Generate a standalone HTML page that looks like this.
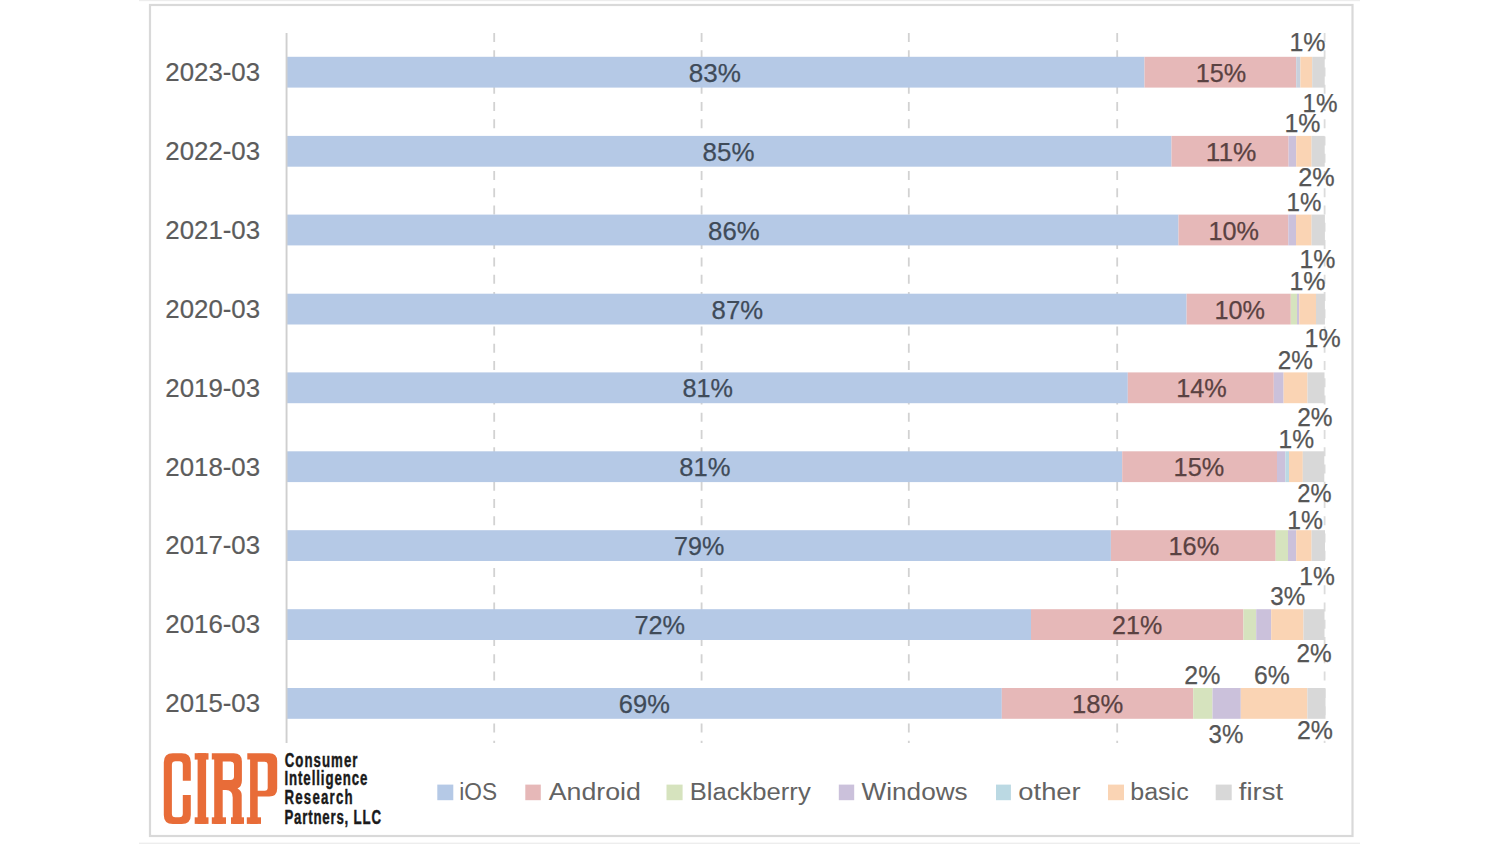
<!DOCTYPE html>
<html><head><meta charset="utf-8"><title>CIRP chart</title>
<style>html,body{margin:0;padding:0;background:#FFFFFF;}body{width:1500px;height:844px;position:relative;overflow:hidden;}</style>
</head><body>
<svg width="1500" height="844" viewBox="0 0 1500 844" style="position:absolute;left:0;top:0">
<rect x="139" y="0" width="1221" height="1.2" fill="#EDEDED"/>
<rect x="139" y="842.6" width="1221" height="1.4" fill="#EDEDED"/>
<rect x="150" y="5" width="1202.5" height="831" fill="#FFFFFF" stroke="#D9D9D9" stroke-width="2.2"/>
<line x1="494.2" y1="33" x2="494.2" y2="743" stroke="#D2D2D2" stroke-width="1.8" stroke-dasharray="9 8.26"/>
<line x1="701.6" y1="33" x2="701.6" y2="743" stroke="#D2D2D2" stroke-width="1.8" stroke-dasharray="9 8.26"/>
<line x1="908.8" y1="33" x2="908.8" y2="743" stroke="#D2D2D2" stroke-width="1.8" stroke-dasharray="9 8.26"/>
<line x1="1117.2" y1="33" x2="1117.2" y2="743" stroke="#D2D2D2" stroke-width="1.8" stroke-dasharray="9 8.26"/>
<line x1="1324.6" y1="33" x2="1324.6" y2="743" stroke="#DCDCDC" stroke-width="1.8" stroke-dasharray="9 8.26"/>
<rect x="287.00" y="56.80" width="857.50" height="30.8" fill="#B5C9E6"/>
<rect x="1144.50" y="56.80" width="151.70" height="30.8" fill="#E6B8B8"/>
<rect x="1296.20" y="56.80" width="4.20" height="30.8" fill="#C8D0DC"/>
<rect x="1300.40" y="56.80" width="11.80" height="30.8" fill="#FAD4B4"/>
<rect x="1312.20" y="56.80" width="12.50" height="30.8" fill="#D8D8D8"/>
<rect x="287.00" y="135.90" width="884.50" height="30.8" fill="#B5C9E6"/>
<rect x="1171.50" y="135.90" width="117.10" height="30.8" fill="#E6B8B8"/>
<rect x="1288.60" y="135.90" width="7.60" height="30.8" fill="#CBC1DB"/>
<rect x="1296.20" y="135.90" width="15.40" height="30.8" fill="#FAD4B4"/>
<rect x="1311.60" y="135.90" width="13.10" height="30.8" fill="#D8D8D8"/>
<rect x="287.00" y="214.60" width="891.50" height="30.8" fill="#B5C9E6"/>
<rect x="1178.50" y="214.60" width="109.80" height="30.8" fill="#E6B8B8"/>
<rect x="1288.30" y="214.60" width="7.70" height="30.8" fill="#CBC1DB"/>
<rect x="1296.00" y="214.60" width="15.60" height="30.8" fill="#FAD4B4"/>
<rect x="1311.60" y="214.60" width="13.30" height="30.8" fill="#D8D8D8"/>
<rect x="287.00" y="293.70" width="899.60" height="30.8" fill="#B5C9E6"/>
<rect x="1186.60" y="293.70" width="104.20" height="30.8" fill="#E6B8B8"/>
<rect x="1290.80" y="293.70" width="6.20" height="30.8" fill="#D6E3BE"/>
<rect x="1297.00" y="293.70" width="2.20" height="30.8" fill="#CBC1DB"/>
<rect x="1299.20" y="293.70" width="16.80" height="30.8" fill="#FAD4B4"/>
<rect x="1316.00" y="293.70" width="8.90" height="30.8" fill="#D8D8D8"/>
<rect x="287.00" y="372.40" width="840.80" height="30.8" fill="#B5C9E6"/>
<rect x="1127.80" y="372.40" width="146.00" height="30.8" fill="#E6B8B8"/>
<rect x="1273.80" y="372.40" width="9.80" height="30.8" fill="#CBC1DB"/>
<rect x="1283.60" y="372.40" width="23.90" height="30.8" fill="#FAD4B4"/>
<rect x="1307.50" y="372.40" width="17.00" height="30.8" fill="#D8D8D8"/>
<rect x="287.00" y="451.30" width="835.20" height="30.8" fill="#B5C9E6"/>
<rect x="1122.20" y="451.30" width="154.80" height="30.8" fill="#E6B8B8"/>
<rect x="1277.00" y="451.30" width="8.40" height="30.8" fill="#CBC1DB"/>
<rect x="1285.40" y="451.30" width="3.60" height="30.8" fill="#BBD9E3"/>
<rect x="1289.00" y="451.30" width="13.80" height="30.8" fill="#FAD4B4"/>
<rect x="1302.80" y="451.30" width="21.50" height="30.8" fill="#D8D8D8"/>
<rect x="287.00" y="530.20" width="823.90" height="30.8" fill="#B5C9E6"/>
<rect x="1110.90" y="530.20" width="164.80" height="30.8" fill="#E6B8B8"/>
<rect x="1275.70" y="530.20" width="12.30" height="30.8" fill="#D6E3BE"/>
<rect x="1288.00" y="530.20" width="8.20" height="30.8" fill="#CBC1DB"/>
<rect x="1296.20" y="530.20" width="15.40" height="30.8" fill="#FAD4B4"/>
<rect x="1311.60" y="530.20" width="13.40" height="30.8" fill="#D8D8D8"/>
<rect x="287.00" y="609.20" width="744.00" height="30.8" fill="#B5C9E6"/>
<rect x="1031.00" y="609.20" width="212.40" height="30.8" fill="#E6B8B8"/>
<rect x="1243.40" y="609.20" width="12.80" height="30.8" fill="#D6E3BE"/>
<rect x="1256.20" y="609.20" width="15.00" height="30.8" fill="#CBC1DB"/>
<rect x="1271.20" y="609.20" width="32.30" height="30.8" fill="#FAD4B4"/>
<rect x="1303.50" y="609.20" width="21.00" height="30.8" fill="#D8D8D8"/>
<rect x="287.00" y="688.00" width="714.80" height="30.8" fill="#B5C9E6"/>
<rect x="1001.80" y="688.00" width="191.40" height="30.8" fill="#E6B8B8"/>
<rect x="1193.20" y="688.00" width="19.30" height="30.8" fill="#D6E3BE"/>
<rect x="1212.50" y="688.00" width="28.30" height="30.8" fill="#CBC1DB"/>
<rect x="1240.80" y="688.00" width="66.60" height="30.8" fill="#FAD4B4"/>
<rect x="1307.40" y="688.00" width="18.10" height="30.8" fill="#D8D8D8"/>
<rect x="285.6" y="33" width="1.9" height="710" fill="#CFCFCF"/>
<text x="165.31" y="81.00" font-size="26.5" textLength="94.79" lengthAdjust="spacingAndGlyphs" fill="#5C5C5C" font-family='"Liberation Sans", sans-serif' font-weight="normal" stroke="#5C5C5C" stroke-width="0.2">2023-03</text>
<text x="165.31" y="160.10" font-size="26.5" textLength="94.79" lengthAdjust="spacingAndGlyphs" fill="#5C5C5C" font-family='"Liberation Sans", sans-serif' font-weight="normal" stroke="#5C5C5C" stroke-width="0.2">2022-03</text>
<text x="165.31" y="238.80" font-size="26.5" textLength="94.79" lengthAdjust="spacingAndGlyphs" fill="#5C5C5C" font-family='"Liberation Sans", sans-serif' font-weight="normal" stroke="#5C5C5C" stroke-width="0.2">2021-03</text>
<text x="165.31" y="317.90" font-size="26.5" textLength="94.79" lengthAdjust="spacingAndGlyphs" fill="#5C5C5C" font-family='"Liberation Sans", sans-serif' font-weight="normal" stroke="#5C5C5C" stroke-width="0.2">2020-03</text>
<text x="165.31" y="396.60" font-size="26.5" textLength="94.79" lengthAdjust="spacingAndGlyphs" fill="#5C5C5C" font-family='"Liberation Sans", sans-serif' font-weight="normal" stroke="#5C5C5C" stroke-width="0.2">2019-03</text>
<text x="165.31" y="475.50" font-size="26.5" textLength="94.79" lengthAdjust="spacingAndGlyphs" fill="#5C5C5C" font-family='"Liberation Sans", sans-serif' font-weight="normal" stroke="#5C5C5C" stroke-width="0.2">2018-03</text>
<text x="165.31" y="554.40" font-size="26.5" textLength="94.79" lengthAdjust="spacingAndGlyphs" fill="#5C5C5C" font-family='"Liberation Sans", sans-serif' font-weight="normal" stroke="#5C5C5C" stroke-width="0.2">2017-03</text>
<text x="165.31" y="633.40" font-size="26.5" textLength="94.79" lengthAdjust="spacingAndGlyphs" fill="#5C5C5C" font-family='"Liberation Sans", sans-serif' font-weight="normal" stroke="#5C5C5C" stroke-width="0.2">2016-03</text>
<text x="165.31" y="712.20" font-size="26.5" textLength="94.79" lengthAdjust="spacingAndGlyphs" fill="#5C5C5C" font-family='"Liberation Sans", sans-serif' font-weight="normal" stroke="#5C5C5C" stroke-width="0.2">2015-03</text>
<text x="688.89" y="82.00" font-size="25.5" textLength="52.16" lengthAdjust="spacingAndGlyphs" fill="#3F4B59" font-family='"Liberation Sans", sans-serif' font-weight="normal" stroke="#3F4B59" stroke-width="0.25">83%</text>
<text x="1195.81" y="82.00" font-size="25.5" textLength="50.51" lengthAdjust="spacingAndGlyphs" fill="#5A4242" font-family='"Liberation Sans", sans-serif' font-weight="normal" stroke="#5A4242" stroke-width="0.25">15%</text>
<text x="1289.43" y="51.10" font-size="25.5" textLength="36.12" lengthAdjust="spacingAndGlyphs" fill="#565656" font-family='"Liberation Sans", sans-serif' font-weight="normal" stroke="#565656" stroke-width="0.25">1%</text>
<text x="1302.58" y="112.40" font-size="25.5" textLength="35.04" lengthAdjust="spacingAndGlyphs" fill="#565656" font-family='"Liberation Sans", sans-serif' font-weight="normal" stroke="#565656" stroke-width="0.25">1%</text>
<text x="702.60" y="160.90" font-size="25.5" textLength="51.85" lengthAdjust="spacingAndGlyphs" fill="#3F4B59" font-family='"Liberation Sans", sans-serif' font-weight="normal" stroke="#3F4B59" stroke-width="0.25">85%</text>
<text x="1205.83" y="160.90" font-size="25.5" textLength="50.65" lengthAdjust="spacingAndGlyphs" fill="#5A4242" font-family='"Liberation Sans", sans-serif' font-weight="normal" stroke="#5A4242" stroke-width="0.25">11%</text>
<text x="1284.43" y="132.10" font-size="25.5" textLength="36.01" lengthAdjust="spacingAndGlyphs" fill="#565656" font-family='"Liberation Sans", sans-serif' font-weight="normal" stroke="#565656" stroke-width="0.25">1%</text>
<text x="1298.14" y="186.40" font-size="25.5" textLength="36.41" lengthAdjust="spacingAndGlyphs" fill="#565656" font-family='"Liberation Sans", sans-serif' font-weight="normal" stroke="#565656" stroke-width="0.25">2%</text>
<text x="708.11" y="239.70" font-size="25.5" textLength="51.53" lengthAdjust="spacingAndGlyphs" fill="#3F4B59" font-family='"Liberation Sans", sans-serif' font-weight="normal" stroke="#3F4B59" stroke-width="0.25">86%</text>
<text x="1208.51" y="239.70" font-size="25.5" textLength="50.51" lengthAdjust="spacingAndGlyphs" fill="#5A4242" font-family='"Liberation Sans", sans-serif' font-weight="normal" stroke="#5A4242" stroke-width="0.25">10%</text>
<text x="1286.49" y="211.20" font-size="25.5" textLength="34.93" lengthAdjust="spacingAndGlyphs" fill="#565656" font-family='"Liberation Sans", sans-serif' font-weight="normal" stroke="#565656" stroke-width="0.25">1%</text>
<text x="1299.53" y="268.00" font-size="25.5" textLength="36.01" lengthAdjust="spacingAndGlyphs" fill="#565656" font-family='"Liberation Sans", sans-serif' font-weight="normal" stroke="#565656" stroke-width="0.25">1%</text>
<text x="711.61" y="318.70" font-size="25.5" textLength="51.43" lengthAdjust="spacingAndGlyphs" fill="#3F4B59" font-family='"Liberation Sans", sans-serif' font-weight="normal" stroke="#3F4B59" stroke-width="0.25">87%</text>
<text x="1214.51" y="318.70" font-size="25.5" textLength="50.51" lengthAdjust="spacingAndGlyphs" fill="#5A4242" font-family='"Liberation Sans", sans-serif' font-weight="normal" stroke="#5A4242" stroke-width="0.25">10%</text>
<text x="1289.43" y="290.20" font-size="25.5" textLength="36.12" lengthAdjust="spacingAndGlyphs" fill="#565656" font-family='"Liberation Sans", sans-serif' font-weight="normal" stroke="#565656" stroke-width="0.25">1%</text>
<text x="1304.53" y="346.60" font-size="25.5" textLength="36.12" lengthAdjust="spacingAndGlyphs" fill="#565656" font-family='"Liberation Sans", sans-serif' font-weight="normal" stroke="#565656" stroke-width="0.25">1%</text>
<text x="682.43" y="397.20" font-size="25.5" textLength="50.49" lengthAdjust="spacingAndGlyphs" fill="#3F4B59" font-family='"Liberation Sans", sans-serif' font-weight="normal" stroke="#3F4B59" stroke-width="0.25">81%</text>
<text x="1176.20" y="397.20" font-size="25.5" textLength="50.62" lengthAdjust="spacingAndGlyphs" fill="#5A4242" font-family='"Liberation Sans", sans-serif' font-weight="normal" stroke="#5A4242" stroke-width="0.25">14%</text>
<text x="1277.68" y="369.20" font-size="25.5" textLength="35.14" lengthAdjust="spacingAndGlyphs" fill="#565656" font-family='"Liberation Sans", sans-serif' font-weight="normal" stroke="#565656" stroke-width="0.25">2%</text>
<text x="1297.18" y="426.00" font-size="25.5" textLength="35.35" lengthAdjust="spacingAndGlyphs" fill="#565656" font-family='"Liberation Sans", sans-serif' font-weight="normal" stroke="#565656" stroke-width="0.25">2%</text>
<text x="679.21" y="476.00" font-size="25.5" textLength="51.22" lengthAdjust="spacingAndGlyphs" fill="#3F4B59" font-family='"Liberation Sans", sans-serif' font-weight="normal" stroke="#3F4B59" stroke-width="0.25">81%</text>
<text x="1173.60" y="476.00" font-size="25.5" textLength="50.62" lengthAdjust="spacingAndGlyphs" fill="#5A4242" font-family='"Liberation Sans", sans-serif' font-weight="normal" stroke="#5A4242" stroke-width="0.25">15%</text>
<text x="1278.45" y="448.20" font-size="25.5" textLength="35.58" lengthAdjust="spacingAndGlyphs" fill="#565656" font-family='"Liberation Sans", sans-serif' font-weight="normal" stroke="#565656" stroke-width="0.25">1%</text>
<text x="1297.21" y="502.10" font-size="25.5" textLength="34.28" lengthAdjust="spacingAndGlyphs" fill="#565656" font-family='"Liberation Sans", sans-serif' font-weight="normal" stroke="#565656" stroke-width="0.25">2%</text>
<text x="673.98" y="555.00" font-size="25.5" textLength="50.23" lengthAdjust="spacingAndGlyphs" fill="#3F4B59" font-family='"Liberation Sans", sans-serif' font-weight="normal" stroke="#3F4B59" stroke-width="0.25">79%</text>
<text x="1168.50" y="555.00" font-size="25.5" textLength="50.83" lengthAdjust="spacingAndGlyphs" fill="#5A4242" font-family='"Liberation Sans", sans-serif' font-weight="normal" stroke="#5A4242" stroke-width="0.25">16%</text>
<text x="1287.35" y="528.70" font-size="25.5" textLength="35.69" lengthAdjust="spacingAndGlyphs" fill="#565656" font-family='"Liberation Sans", sans-serif' font-weight="normal" stroke="#565656" stroke-width="0.25">1%</text>
<text x="1299.35" y="585.40" font-size="25.5" textLength="35.58" lengthAdjust="spacingAndGlyphs" fill="#565656" font-family='"Liberation Sans", sans-serif' font-weight="normal" stroke="#565656" stroke-width="0.25">1%</text>
<text x="634.47" y="633.80" font-size="25.5" textLength="50.65" lengthAdjust="spacingAndGlyphs" fill="#3F4B59" font-family='"Liberation Sans", sans-serif' font-weight="normal" stroke="#3F4B59" stroke-width="0.25">72%</text>
<text x="1112.05" y="633.80" font-size="25.5" textLength="50.17" lengthAdjust="spacingAndGlyphs" fill="#5A4242" font-family='"Liberation Sans", sans-serif' font-weight="normal" stroke="#5A4242" stroke-width="0.25">21%</text>
<text x="1270.29" y="605.00" font-size="25.5" textLength="34.92" lengthAdjust="spacingAndGlyphs" fill="#565656" font-family='"Liberation Sans", sans-serif' font-weight="normal" stroke="#565656" stroke-width="0.25">3%</text>
<text x="1296.38" y="662.10" font-size="25.5" textLength="35.24" lengthAdjust="spacingAndGlyphs" fill="#565656" font-family='"Liberation Sans", sans-serif' font-weight="normal" stroke="#565656" stroke-width="0.25">2%</text>
<text x="618.83" y="712.70" font-size="25.5" textLength="51.00" lengthAdjust="spacingAndGlyphs" fill="#3F4B59" font-family='"Liberation Sans", sans-serif' font-weight="normal" stroke="#3F4B59" stroke-width="0.25">69%</text>
<text x="1072.08" y="712.70" font-size="25.5" textLength="51.26" lengthAdjust="spacingAndGlyphs" fill="#5A4242" font-family='"Liberation Sans", sans-serif' font-weight="normal" stroke="#5A4242" stroke-width="0.25">18%</text>
<text x="1184.36" y="684.40" font-size="25.5" textLength="35.99" lengthAdjust="spacingAndGlyphs" fill="#565656" font-family='"Liberation Sans", sans-serif' font-weight="normal" stroke="#565656" stroke-width="0.25">2%</text>
<text x="1253.96" y="684.40" font-size="25.5" textLength="35.77" lengthAdjust="spacingAndGlyphs" fill="#565656" font-family='"Liberation Sans", sans-serif' font-weight="normal" stroke="#565656" stroke-width="0.25">6%</text>
<text x="1208.50" y="743.40" font-size="25.5" textLength="34.82" lengthAdjust="spacingAndGlyphs" fill="#565656" font-family='"Liberation Sans", sans-serif' font-weight="normal" stroke="#565656" stroke-width="0.25">3%</text>
<text x="1296.96" y="738.60" font-size="25.5" textLength="35.99" lengthAdjust="spacingAndGlyphs" fill="#565656" font-family='"Liberation Sans", sans-serif' font-weight="normal" stroke="#565656" stroke-width="0.25">2%</text>
<rect x="437.3" y="784.6" width="16.0" height="15.6" fill="#B5C9E6"/>
<text x="459.27" y="800.00" font-size="23" textLength="37.80" lengthAdjust="spacingAndGlyphs" fill="#636363" font-family='"Liberation Sans", sans-serif' font-weight="normal">iOS</text>
<rect x="525.3" y="784.6" width="15.5" height="15.6" fill="#E6B8B8"/>
<text x="548.73" y="800.00" font-size="23" textLength="92.19" lengthAdjust="spacingAndGlyphs" fill="#636363" font-family='"Liberation Sans", sans-serif' font-weight="normal">Android</text>
<rect x="666.5" y="784.6" width="16.1" height="15.6" fill="#D6E3BE"/>
<text x="689.69" y="800.00" font-size="23" textLength="121.01" lengthAdjust="spacingAndGlyphs" fill="#636363" font-family='"Liberation Sans", sans-serif' font-weight="normal">Blackberry</text>
<rect x="838.8" y="784.6" width="15.4" height="15.6" fill="#CBC1DB"/>
<text x="861.57" y="800.00" font-size="23" textLength="106.13" lengthAdjust="spacingAndGlyphs" fill="#636363" font-family='"Liberation Sans", sans-serif' font-weight="normal">Windows</text>
<rect x="996.0" y="784.6" width="14.9" height="15.6" fill="#BBD9E3"/>
<text x="1018.34" y="800.00" font-size="23" textLength="62.36" lengthAdjust="spacingAndGlyphs" fill="#636363" font-family='"Liberation Sans", sans-serif' font-weight="normal">other</text>
<rect x="1108.0" y="784.6" width="16.0" height="15.6" fill="#FAD4B4"/>
<text x="1130.27" y="800.00" font-size="23" textLength="58.40" lengthAdjust="spacingAndGlyphs" fill="#636363" font-family='"Liberation Sans", sans-serif' font-weight="normal">basic</text>
<rect x="1215.7" y="784.6" width="16.0" height="15.6" fill="#D8D8D8"/>
<text x="1238.79" y="800.00" font-size="23" textLength="44.34" lengthAdjust="spacingAndGlyphs" fill="#636363" font-family='"Liberation Sans", sans-serif' font-weight="normal">first</text>
<g fill="#E86C38">
<path d="M172.8,753.2 H181.8 Q190.8,753.2 190.8,762.2 V780.7 H182.8 V764.8 Q182.8,761.3 179.3,761.3 H175.4 Q171.9,761.3 171.9,764.8 V813.7 Q171.9,817.2 175.4,817.2 H179.3 Q182.8,817.2 182.8,813.7 V794.9 H190.8 V814.9 Q190.8,823.9 181.8,823.9 H172.8 Q163.8,823.9 163.8,814.9 V762.2 Q163.8,753.2 172.8,753.2 Z"/>
<rect x="197.6" y="753.2" width="8.5" height="70.7"/>
<rect x="194.7" y="753.2" width="13.8" height="6.4"/>
<rect x="194.7" y="817.3" width="13.8" height="6.6"/>
<path fill-rule="evenodd" d="M211.8,753.2 H233.7 Q241.9,753.2 241.9,761.4 V780.5 Q241.9,786.5 237.5,788.5 Q241.7,790.5 241.7,795 V823.9 H232.7 V797.5 Q232.7,790 226,790 H222.7 V823.9 H214.2 V759.6 H211.8 Z M222.7,761.5 H230.6 Q234.0,761.5 234.0,764.9 V776.6 Q234.0,780.0 230.6,780.0 H222.7 Z"/>
<rect x="211.8" y="817.3" width="14.2" height="6.6"/>
<rect x="231.0" y="817.3" width="13.0" height="6.6"/>
<path fill-rule="evenodd" d="M247.3,753.2 H269.2 Q277.2,753.2 277.2,761.2 V788.4 Q277.2,796.4 269.2,796.4 H257.7 V823.9 H250.1 V759.6 H247.3 Z M257.7,761.8 H264.7 Q267.7,761.8 267.7,764.8 V787.7 Q267.7,790.7 264.7,790.7 H257.7 Z"/>
<rect x="246.8" y="817.3" width="14.2" height="6.6"/>
</g>

<text transform="translate(284.77,767.00) scale(0.68,1)" x="0" y="0" font-size="19.5" textLength="106.92" lengthAdjust="spacing" fill="#1A1A1A" stroke="#1A1A1A" stroke-width="0.45" font-family='"Liberation Sans", sans-serif' font-weight="bold">Consumer</text>
<text transform="translate(284.40,785.40) scale(0.68,1)" x="0" y="0" font-size="19.5" textLength="122.13" lengthAdjust="spacing" fill="#1A1A1A" stroke="#1A1A1A" stroke-width="0.45" font-family='"Liberation Sans", sans-serif' font-weight="bold">Intelligence</text>
<text transform="translate(284.40,804.40) scale(0.68,1)" x="0" y="0" font-size="19.5" textLength="100.44" lengthAdjust="spacing" fill="#1A1A1A" stroke="#1A1A1A" stroke-width="0.45" font-family='"Liberation Sans", sans-serif' font-weight="bold">Research</text>
<text transform="translate(284.40,823.80) scale(0.68,1)" x="0" y="0" font-size="19.5" textLength="142.00" lengthAdjust="spacing" fill="#1A1A1A" stroke="#1A1A1A" stroke-width="0.45" font-family='"Liberation Sans", sans-serif' font-weight="bold">Partners, LLC</text>
</svg>
</body></html>
